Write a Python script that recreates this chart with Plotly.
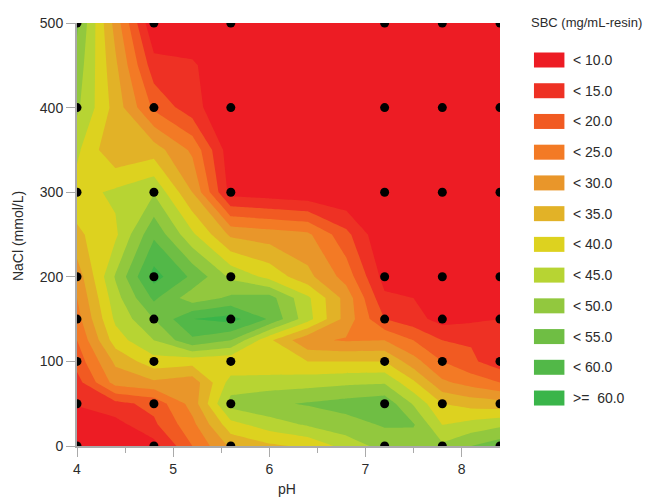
import plotly.graph_objects as go

ph = [4, 4.4, 4.8, 5.2, 5.6, 6.0, 6.4, 6.8, 7.2, 7.5, 7.8, 8.1, 8.4]
nacl = [0, 25, 50, 75, 100, 125, 150, 175, 200, 250, 300, 350, 400, 450, 500]
sbc_0 = [4, 6, 8, 20, 31, 34, 36, 42, 47, 46.5, 46, 50, 53]
sbc_25 = [6, 8, 14, 23.5, 38, 42.5, 45.5, 48, 50.5, 50.5, 40, 42, 44]
sbc_50 = [10.5, 13.5, 16.5, 27, 47, 49, 50.5, 52, 53.5, 44.5, 35, 33, 32]
sbc_75 = [13, 27, 29, 27, 42, 42.5, 43, 44, 44.5, 36, 26, 23, 20]
sbc_100 = [17, 31, 38, 37, 36, 35.5, 35, 35, 35, 27, 20, 16, 12]
sbc_125 = [20, 37.5, 45, 54, 50, 36, 26, 24.5, 25, 20, 15, 14.5, 12]
sbc_150 = [23, 41, 50, 60, 62, 54.5, 42, 28, 15, 12, 8, 9, 10]
sbc_175 = [25, 43, 56, 47, 51, 52, 41, 28, 11, 10, 5, 4, 5]
sbc_200 = [27, 45.5, 62, 54, 44, 38.5, 31.5, 23, 8, 3, 3, 3, 3]
sbc_250 = [34, 39, 54, 41, 29, 27.5, 26, 16.5, 5, 3, 3, 3, 3]
sbc_300 = [38, 41, 44.5, 30, 8, 7, 6, 5, 4, 3, 3, 3, 3]
sbc_350 = [41, 30.5, 32.5, 24, 6.5, 4, 3, 3, 3, 3, 3, 3, 3]
sbc_400 = [46, 33, 19, 12, 5, 3, 3, 3, 3, 3, 3, 3, 3]
sbc_450 = [48, 31, 12, 11, 4, 3, 3, 3, 3, 3, 3, 3, 3]
sbc_500 = [51, 28, 5, 4, 3, 3, 3, 3, 3, 3, 3, 3, 3]
sbc = [sbc_0, sbc_25, sbc_50, sbc_75, sbc_100, sbc_125, sbc_150, sbc_175, sbc_200,
       sbc_250, sbc_300, sbc_350, sbc_400, sbc_450, sbc_500]

sample_ph = [4, 4.8, 5.6, 7.2, 7.8, 8.4]
sample_nacl = [0, 50, 100, 150, 200, 300, 400, 500]
levels = ["< 10.0", "< 15.0", "< 20.0", "< 25.0", "< 30.0", "< 35.0", "< 40.0", "< 45.0", "< 50.0", "< 55.0", "< 60.0", ">=  60.0"]
colors = ["#ED1C24", "#EE3124", "#F15A22", "#F37A25", "#E9962A", "#E2B227", "#DDD21F", "#B7D433", "#92C83E", "#6FBE44", "#52B848", "#3AB54A"]
dots_x = [p for p in sample_ph for _ in sample_nacl]
dots_y = [n for _ in sample_ph for n in sample_nacl]
FONT = "Liberation Sans, sans-serif"
TXT = "#2b2b2b"
AX = "#aaaaaa"

n = len(colors)
scale = []
for i, c in enumerate(colors):
    scale += [[i / n, c], [(i + 1) / n, c]]

# the page body has an 8px margin: L and T are page pixels
L, T, W, H = 77, 23, 423.5, 423
FW, FH = 651, 491
fig = go.Figure()
fig.add_trace(go.Contour(x=ph, y=nacl, z=sbc, zmin=5, zmax=65, colorscale=scale, showscale=False,
                         contours=dict(start=10, end=60, size=5, coloring="fill"),
                         line=dict(width=0, smoothing=0), hoverinfo="skip"))
fig.add_trace(go.Scatter(x=dots_x, y=dots_y, mode="markers", cliponaxis=True,
                         marker=dict(color="black", size=9), showlegend=False))

px = lambda x: (x - L) / W
py = lambda y: (T + H - y) / H
for i, (lab, c) in enumerate(zip(levels, colors)):
    yc = 60 + i * 30.73
    fig.add_shape(type="rect", xref="paper", yref="paper", x0=px(534.5), x1=px(565),
                  y0=py(yc + 7.5), y1=py(yc - 7.5), fillcolor=c, line=dict(width=0))
    fig.add_annotation(text=lab, xref="paper", yref="paper", x=px(573), y=py(yc),
                       xanchor="left", yanchor="middle", showarrow=False, xshift=-1,
                       font=dict(size=14, color=TXT, family=FONT))
fig.add_annotation(text="SBC (mg/mL-resin)", xref="paper", yref="paper", x=px(531), y=py(22),
                   xanchor="left", yanchor="middle", showarrow=False, xshift=-1,
                   font=dict(size=13, color=TXT, family=FONT))
fig.add_annotation(text="pH", xref="paper", yref="paper", x=px(287), y=py(489), xanchor="center", yanchor="middle",
                   showarrow=False, font=dict(size=14, color=TXT, family=FONT))
fig.add_annotation(text="NaCl (mmol/L)", xref="paper", yref="paper", x=px(18), y=py(236), xanchor="center", yanchor="middle",
                   textangle=-90, showarrow=False, font=dict(size=14, color=TXT, family=FONT))

fig.update_layout(width=FW, height=FH, autosize=False, paper_bgcolor="white", plot_bgcolor="white",
                  margin=dict(l=L - 8, r=FW - (L - 8) - W, t=T - 8, b=FH - (T - 8) - H, autoexpand=False), showlegend=False,
                  font=dict(family=FONT, size=14, color=TXT))
fig.update_xaxes(range=[4, 8.4], tickvals=[4, 5, 6, 7, 8], ticks="outside", ticklen=9, tickcolor=AX,
                 showline=True, linecolor=AX, linewidth=2, showgrid=False, zeroline=False, automargin=False,
                 minor=dict(tickvals=[4.5, 5.5, 6.5, 7.5], ticks="outside", ticklen=5, tickcolor=AX))
fig.update_yaxes(range=[0, 500], tickvals=[0, 100, 200, 300, 400, 500], ticks="outside", ticklen=9, tickcolor=AX,
                 showline=True, linecolor=AX, linewidth=2, showgrid=False, zeroline=False, automargin=False)
fig.write_html("out.html")
